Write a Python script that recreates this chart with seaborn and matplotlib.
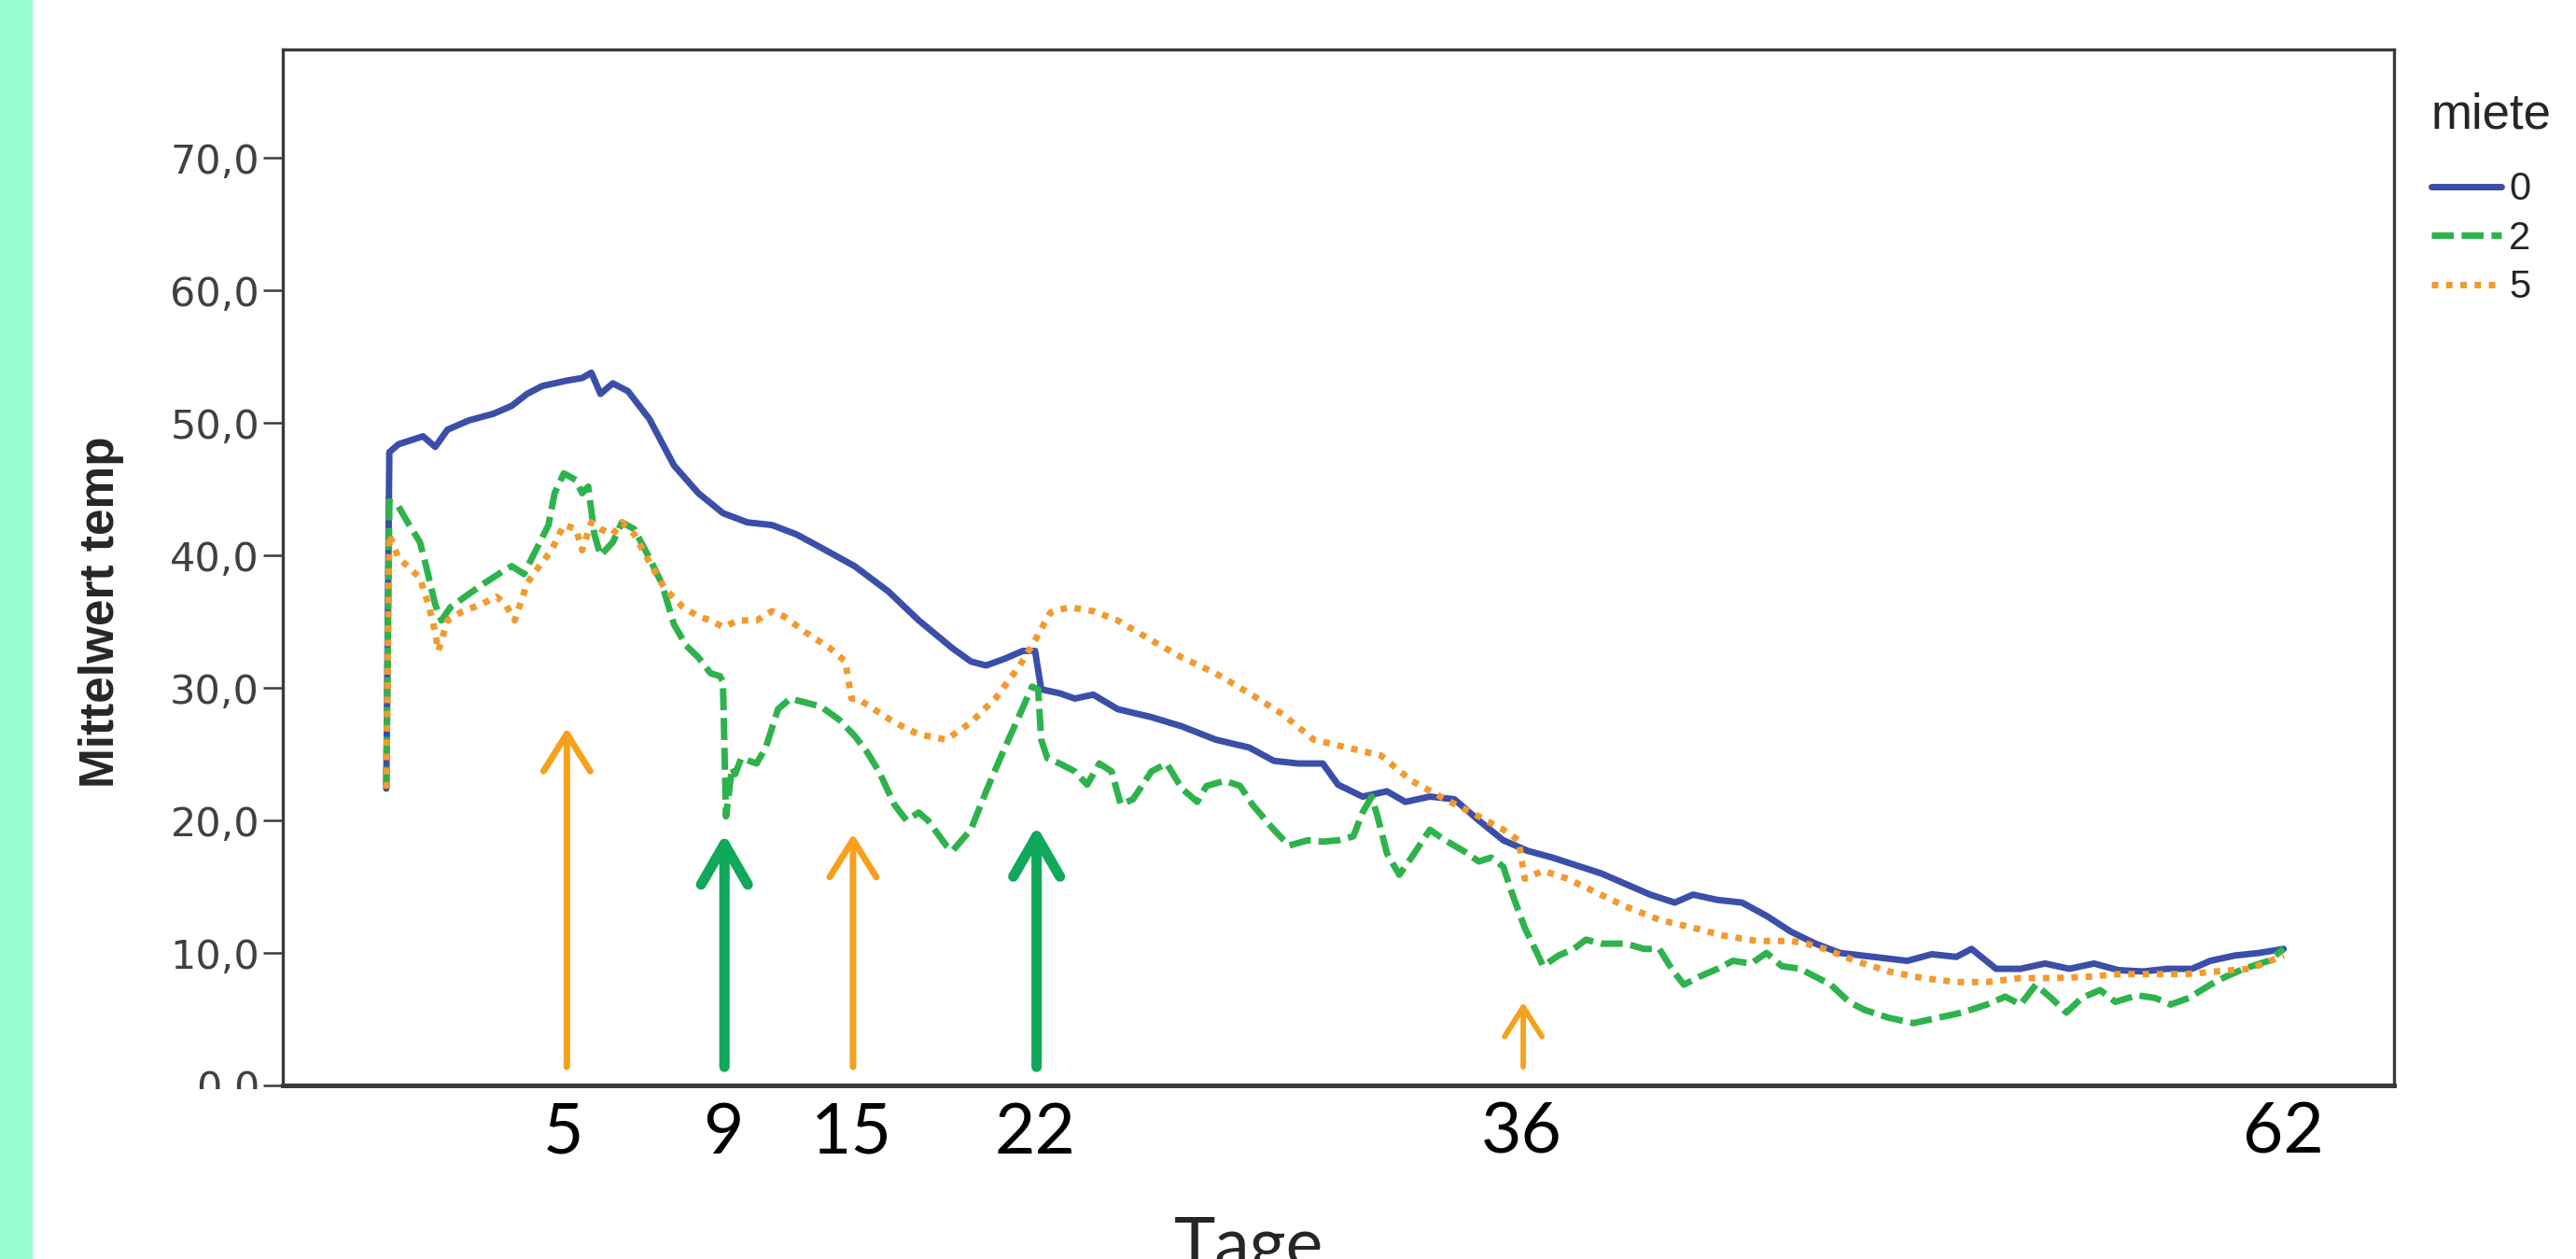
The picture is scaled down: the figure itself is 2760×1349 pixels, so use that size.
import matplotlib
matplotlib.use("Agg")

import pandas as pd
import matplotlib.pyplot as plt
import seaborn as sns
from matplotlib.patches import Rectangle

# =====================================================
# DATA
# =====================================================

# miete = 0 (blue, solid)
tage_0 = [0.0, 0.1, 0.4, 0.8, 1.2, 1.6, 2.0, 2.7, 3.5, 4.1, 4.6, 5.1, 5.9, 6.4,
          6.7, 7.0, 7.4, 7.9, 8.6, 9.4, 10.2, 11.0, 11.8, 12.6, 13.4, 14.2,
          15.3, 16.4, 17.4, 18.5, 19.1, 19.6, 20.2, 20.8, 21.2, 21.4, 22.0,
          22.5, 23.1, 23.9, 25.0, 26.0, 27.1, 28.2, 29.0, 29.8, 30.6, 31.1,
          31.9, 32.7, 33.3, 34.1, 34.9, 35.7, 36.5, 37.3, 38.1, 38.9, 39.7,
          40.5, 41.3, 42.1, 42.7, 43.5, 44.3, 45.1, 45.9, 46.7, 47.5, 48.6,
          49.7, 50.5, 51.3, 51.8, 52.6, 53.4, 54.2, 55.0, 55.8, 56.6, 57.4,
          58.2, 59.0, 59.6, 60.4, 61.2, 62.0]
temp_0 = [22.4, 47.8, 48.4, 48.7, 49.0, 48.2, 49.5, 50.2, 50.7, 51.3, 52.2, 52.8,
          53.2, 53.4, 53.8, 52.2, 53.0, 52.4, 50.3, 46.8, 44.7, 43.2, 42.5,
          42.3, 41.6, 40.6, 39.2, 37.3, 35.1, 33.0, 32.0, 31.7, 32.2, 32.8,
          32.8, 29.9, 29.6, 29.2, 29.5, 28.4, 27.8, 27.1, 26.1, 25.5, 24.5,
          24.3, 24.3, 22.7, 21.8, 22.2, 21.4, 21.8, 21.6, 20.0, 18.5, 17.7,
          17.2, 16.6, 16.0, 15.2, 14.4, 13.8, 14.4, 14.0, 13.8, 12.8, 11.6,
          10.7, 10.0, 9.7, 9.4, 9.9, 9.7, 10.3, 8.8, 8.8, 9.2, 8.8, 9.2, 8.7,
          8.6, 8.8, 8.8, 9.4, 9.8, 10.0, 10.3]

# miete = 2 (green, dashed)
tage_2 = [0.0, 0.1, 0.4, 0.7, 1.1, 1.3, 1.6, 1.8, 2.1, 2.7, 3.2, 3.8, 4.1, 4.5,
          4.8, 5.3, 5.5, 5.8, 6.2, 6.4, 6.6, 6.8, 7.0, 7.4, 7.7, 8.1, 8.6,
          9.0, 9.4, 9.8, 10.2, 10.6, 10.9, 11.0, 11.1, 11.3, 11.4, 11.6,
          12.1, 12.4, 12.8, 13.2, 13.7, 14.2, 14.8, 15.3, 15.7, 16.1, 16.6,
          17.0, 17.4, 17.7, 18.3, 18.5, 19.1, 19.6, 20.1, 20.7, 21.1, 21.3,
          21.4, 21.6, 22.0, 22.5, 22.9, 23.3, 23.7, 24.0, 24.4, 25.0, 25.5,
          26.0, 26.5, 26.8, 27.4, 27.9, 28.3, 29.0, 29.5, 30.1, 30.6, 31.1,
          31.6, 31.9, 32.2, 32.4, 32.7, 33.1, 33.5, 34.1, 34.6, 35.2, 35.7,
          36.1, 36.5, 36.8, 37.2, 37.6, 37.8, 38.3, 38.8, 39.2, 39.7, 40.5,
          41.1, 41.6, 42.0, 42.4, 42.9, 43.5, 44.0, 44.6, 45.1, 45.6, 46.2,
          46.7, 47.2, 47.8, 48.3, 49.1, 49.9, 50.7, 51.5, 52.3, 52.9, 53.4,
          53.9, 54.4, 54.9, 55.4, 56.0, 56.5, 57.2, 57.8, 58.3, 58.9, 59.6,
          60.1, 60.7, 61.5, 62.0]
temp_2 = [22.4, 44.1, 43.7, 42.5, 41.0, 39.2, 36.3, 35.1, 36.1, 37.1, 37.9, 38.8,
          39.2, 38.6, 40.0, 42.3, 44.7, 46.2, 45.7, 44.7, 45.2, 41.6, 40.0,
          41.0, 42.5, 42.0, 39.8, 37.9, 34.8, 33.2, 32.3, 31.1, 30.9, 30.5,
          20.3, 24.0, 23.5, 24.7, 24.3, 25.5, 28.4, 29.2, 28.9, 28.6, 27.6,
          26.4, 25.2, 23.7, 21.2, 20.0, 20.6, 20.0, 18.1, 17.7, 19.3, 22.2,
          24.9, 28.0, 30.1, 29.9, 26.1, 24.7, 24.3, 23.7, 22.7, 24.3, 23.7,
          21.2, 21.6, 23.7, 24.3, 22.4, 21.4, 22.6, 23.0, 22.6, 21.2, 19.3,
          18.1, 18.5, 18.4, 18.5, 18.8, 20.6, 21.8, 20.2, 17.5, 15.9, 17.2,
          19.3, 18.5, 17.7, 16.9, 17.2, 16.5, 14.4, 11.9, 10.0, 9.0, 9.8,
          10.3, 11.0, 10.7, 10.7, 10.3, 10.3, 8.8, 7.6, 8.2, 8.8, 9.4, 9.2,
          10.0, 9.0, 8.8, 8.2, 7.6, 6.3, 5.7, 5.1, 4.7, 5.1, 5.5, 6.1, 6.7,
          6.1, 7.6, 6.6, 5.5, 6.6, 7.2, 6.3, 6.8, 6.6, 6.1, 6.6, 7.6, 8.2,
          8.8, 9.4, 10.3]

# miete = 5 (orange, dotted)
tage_5 = [0.0, 0.1, 0.4, 0.7, 1.1, 1.4, 1.6, 1.7, 2.0, 2.5, 3.1, 3.6, 3.9, 4.2,
          4.6, 5.0, 5.4, 5.8, 6.2, 6.4, 6.7, 7.0, 7.4, 7.7, 8.1, 8.6, 9.1,
          9.7, 10.2, 10.6, 11.0, 11.5, 12.1, 12.6, 13.0, 13.7, 14.5, 15.0,
          15.2, 15.4, 15.8, 16.6, 17.4, 18.3, 19.1, 19.9, 20.7, 21.2, 21.7,
          22.3, 23.1, 23.9, 25.0, 26.0, 27.1, 28.2, 29.3, 30.3, 31.4, 32.5,
          33.5, 34.6, 35.7, 36.5, 37.0, 37.2, 37.8, 38.6, 39.5, 40.5, 41.6,
          42.7, 43.7, 44.8, 45.9, 46.4, 47.0, 48.0, 49.1, 50.2, 51.3, 52.3,
          53.4, 54.5, 55.6, 56.6, 57.7, 58.8, 59.8, 60.9, 62.0]
temp_5 = [22.4, 41.6, 39.8, 39.2, 38.3, 36.1, 34.2, 32.8, 35.1, 35.8, 36.3, 36.9,
          36.3, 35.1, 37.9, 39.2, 40.4, 42.3, 42.0, 40.4, 42.5, 42.0, 41.6,
          42.5, 41.6, 39.5, 37.5, 36.1, 35.4, 35.1, 34.6, 35.1, 35.1, 35.8,
          35.4, 34.2, 33.0, 32.0, 29.2, 29.2, 28.6, 27.4, 26.5, 26.1, 27.4,
          29.2, 31.7, 33.6, 35.7, 36.1, 35.8, 35.1, 33.6, 32.3, 31.1, 29.6,
          28.0, 26.1, 25.5, 24.9, 23.0, 21.6, 20.3, 19.3, 18.5, 15.6, 16.2,
          15.6, 14.6, 13.5, 12.5, 11.9, 11.3, 10.9, 10.9, 10.7, 10.3, 9.4,
          8.6, 8.1, 7.8, 7.8, 8.1, 8.1, 8.2, 8.4, 8.4, 8.4, 8.6, 8.8, 9.8]

miete_levels = ["0", "2", "5"]

# x axis labels (hand placed in the original)
tick_pos = [5.8, 11.0, 15.2, 21.2, 37.1, 62.0]
tick_labels = ["5", "9", "15", "22", "36", "62"]

y_ticks = [0, 10, 20, 30, 40, 50, 60, 70]
y_tick_labels = ["0,0", "10,0", "20,0", "30,0", "40,0", "50,0", "60,0", "70,0"]

# arrows
arrow_x = [5.9, 11.05, 15.25, 21.25, 37.15]
arrow_top = [27.0, 19.0, 19.0, 19.6, 6.3]
arrow_kind = ["orange", "green", "orange", "green", "orange"]

# =====================================================
# STYLE
# =====================================================

sns.set_style("ticks")
plt.rcParams["font.family"] = ["Liberation Sans", "DejaVu Sans"]

BLUE = "#3B4EA8"
GREEN = "#2EB34C"
ORANGE = "#F39A2E"
ARROW_ORANGE = "#F7A01C"
ARROW_GREEN = "#10A85A"
MINT = "#99FBD0"
AXIS_GRAY = "#3A3A3A"
LW = 5.0

# =====================================================
# LONG FORM TABLE
# =====================================================

df = pd.concat([
    pd.DataFrame({"Tage": tage_0, "temp": temp_0, "miete": "0"}),
    pd.DataFrame({"Tage": tage_2, "temp": temp_2, "miete": "2"}),
    pd.DataFrame({"Tage": tage_5, "temp": temp_5, "miete": "5"}),
], ignore_index=True)

# =====================================================
# PLOT
# =====================================================

fig = plt.figure(figsize=(27.6, 13.49), dpi=100)
fig.patch.set_facecolor("white")

# mint stripe at the left edge
fig.patches.append(Rectangle((0, 0), 0.0127, 1, transform=fig.transFigure,
                             facecolor=MINT, edgecolor="none", zorder=-1))

ax = fig.add_axes([0.1098, 0.1379, 0.8195, 0.8228])

sns.lineplot(
    data=df,
    x="Tage",
    y="temp",
    hue="miete",
    style="miete",
    hue_order=miete_levels,
    style_order=miete_levels,
    palette={"0": BLUE, "2": GREEN, "5": ORANGE},
    dashes={"0": "", "2": (3.4, 1.2), "5": (1.0, 1.2)},
    estimator=None,
    sort=False,
    linewidth=LW,
    ax=ax,
)

ax.set_xlim(-3.38, 65.6)
ax.set_ylim(0, 78.2)

# y axis
ax.set_yticks(y_ticks, y_tick_labels)
ax.tick_params(axis="y", length=15, width=1.8, pad=3, labelsize=31,
               colors=AXIS_GRAY, direction="out")
for lab in ax.get_yticklabels():
    lab.set_family("DejaVu Sans")
    lab.set_color("#404040")

# x axis
ax.set_xticks(tick_pos, tick_labels)
ax.tick_params(axis="x", length=0, pad=12, labelsize=54, labelcolor="black")
for lab in ax.get_xticklabels():
    lab.set_family(["Lato", "DejaVu Sans"])

for side in ["left", "right", "top", "bottom"]:
    ax.spines[side].set_visible(True)
    ax.spines[side].set_color(AXIS_GRAY)
    ax.spines[side].set_linewidth(2.4)
ax.spines["bottom"].set_linewidth(3.6)

ax.set_ylabel("Mittelwert temp", fontsize=37, fontweight="bold",
              family=["Liberation Sans Narrow", "Liberation Sans"])
ax.yaxis.set_label_coords(-0.075, 0.457)

ax.set_xlabel("Tage", fontsize=54, family=["Lato", "DejaVu Sans"])
ax.xaxis.set_label_coords(0.4576, -0.127)

# white band under the plot (covers the lower half of "0,0" as in the original)
ax.add_patch(Rectangle((0.0127, 0), 0.99, 0.1379 - 0.003,
                       transform=fig.transFigure, facecolor="white",
                       edgecolor="none", clip_on=False, zorder=1.8))
ax.xaxis.set_zorder(3)

# arrows
for x, top, kind in zip(arrow_x, arrow_top, arrow_kind):
    if kind == "green":
        color, lw, hl, hw = ARROW_GREEN, 8.0, 2.6, 1.5
    elif top < 10:
        color, lw, hl, hw = ARROW_ORANGE, 4.2, 1.9, 1.2
    else:
        color, lw, hl, hw = ARROW_ORANGE, 5.0, 2.4, 1.5
    ax.annotate(
        "",
        xy=(x, top),
        xytext=(x, 1.4),
        arrowprops=dict(
            arrowstyle=f"->,head_length={hl},head_width={hw}",
            color=color,
            lw=lw,
            mutation_scale=12,
            shrinkA=0,
            shrinkB=0,
        ),
        zorder=4,
    )

# legend
sns.move_legend(
    ax,
    "upper left",
    bbox_to_anchor=(0.9438, 0.927),
    bbox_transform=fig.transFigure,
    frameon=False,
    title="miete",
    fontsize=30,
    title_fontsize=38,
    handlelength=1.8,
    handletextpad=0.2,
    labelspacing=0.3,
    borderpad=0,
    borderaxespad=0,
    alignment="left",
)
leg = ax.get_legend()
leg._legend_box.sep = 25
for line in leg.get_lines():
    line.set_linewidth(LW)

fig.savefig("out.png", dpi=100)
